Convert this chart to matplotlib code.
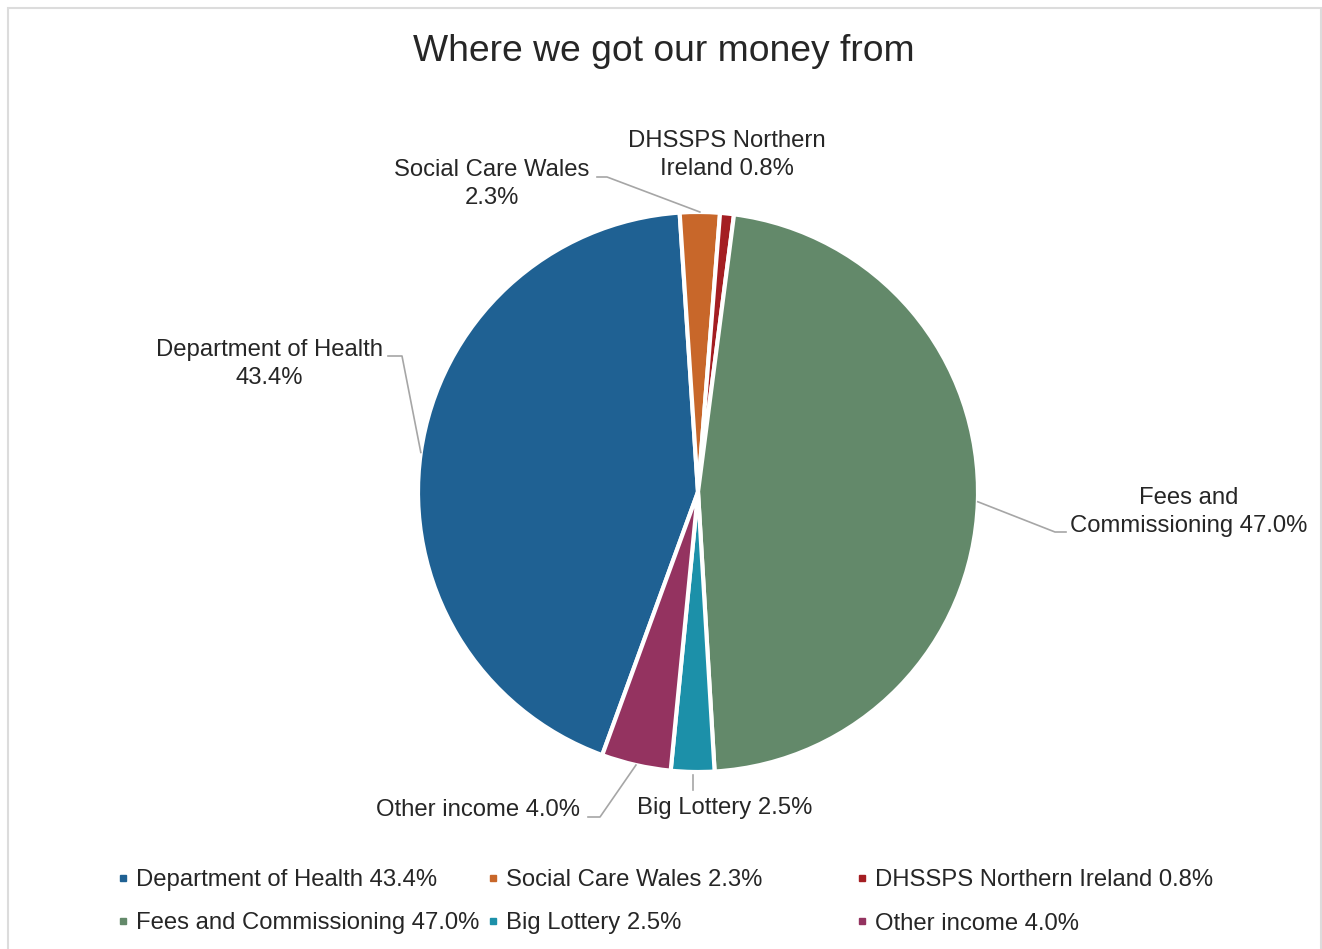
import matplotlib.pyplot as plt
from matplotlib.lines import Line2D
from matplotlib.patches import Rectangle
import numpy as np

plt.rcParams['font.family'] = ['Liberation Sans', 'DejaVu Sans']

# data
categories = ["Department of Health", "Social Care Wales", "DHSSPS Northern Ireland",
              "Fees and Commissioning", "Big Lottery", "Other income"]
shares = [43.4, 2.3, 0.8, 47.0, 2.5, 4.0]
colors = ["#1F6193", "#C8672A", "#A41E22", "#63896A", "#1C90A9", "#943360"]

# data label text (as shown next to the slices)
pie_labels = ["Department of Health\n43.4%", "Social Care Wales\n2.3%",
              "DHSSPS Northern\nIreland 0.8%", "Fees and\nCommissioning 47.0%",
              "Big Lottery 2.5%", "Other income 4.0%"]

W, H = 1322, 949
fig = plt.figure(figsize=(W / 100, H / 100), dpi=100)
ax = fig.add_axes([0, 0, 1, 1])

# chart border
ax.add_patch(Rectangle((7.5, -5), 1313, H - 3, fill=False, edgecolor="#DCDCDC", linewidth=1.5))

cx, cy, r = 698, H - 492, 280
explode = [0, 0, 0, 0.012, 0, 0]
wedges, _ = ax.pie(shares, colors=colors, startangle=-110, counterclock=False,
                   center=(cx, cy), radius=r, explode=explode,
                   wedgeprops=dict(edgecolor='white', linewidth=3), frame=True)
ax.set_xlim(0, W)
ax.set_ylim(0, H)
ax.axis('off')

ax.text(664, H - 51, "Where we got our money from", ha='center', va='center',
        fontsize=26.8, color="#262626")

# label placement: (text x, text y in px from top, leader end x, leader end y, elbow x)
label_pos = {
    0: (269, 364, 388, 356, 402),
    1: (492, 184, 597, 177, 607),
    2: (727, 155, None, None, None),
    3: (1189, 512, 1066, 532, 1055),
    4: (725, 808, None, None, None),
    5: (478, 810, 588, 817, 600),
}
line_col = "#A6A6A6"
for i, w in enumerate(wedges):
    tx, ty, lx, ly, ex = label_pos[i]
    ax.text(tx, H - ty, pie_labels[i], ha='center', va='center', fontsize=17.2,
            color="#262626", linespacing=1.3)
    mid = np.deg2rad((w.theta1 + w.theta2) / 2)
    px = w.center[0] + r * np.cos(mid)
    py = w.center[1] + r * np.sin(mid)
    if i == 4:
        ax.plot([px, px], [py - 3, H - 790], color=line_col, lw=1.2)
    elif lx is not None:
        ax.plot([lx, ex, px], [H - ly, H - ly, py], color=line_col, lw=1.2)

# legend, three columns of two entries
for j in range(3):
    handles = []
    for k in (j, j + 3):
        handles.append(Line2D([], [], marker='s', linestyle='none', markersize=5,
                              color=colors[k], label=f"{categories[k]} {shares[k]:.1f}%"))
    x0 = [118, 488, 857][j]
    fig.legend(handles=handles, loc='upper left',
               bbox_to_anchor=(x0 / W, 1 - 869 / H), frameon=False, fontsize=17.2,
               handlelength=0.45, handletextpad=0.3, labelspacing=0.9,
               borderaxespad=0, borderpad=0, labelcolor="#262626")

fig.savefig("out.png", dpi=100)
